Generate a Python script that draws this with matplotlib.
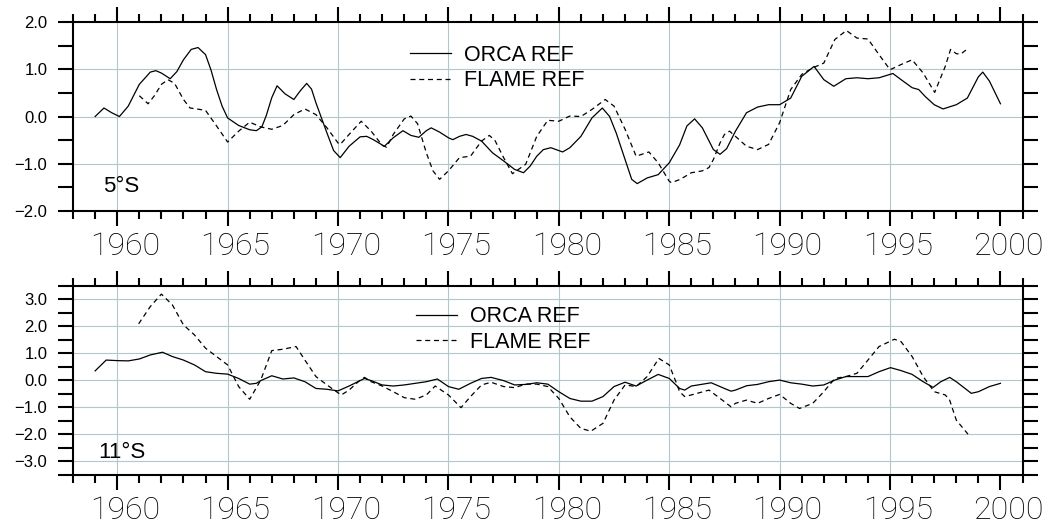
import numpy as np
import matplotlib
matplotlib.use('Agg')
import matplotlib.pyplot as plt
import matplotlib.transforms as mtransforms
from matplotlib.ticker import MultipleLocator, FuncFormatter

# ---- 5S series ----
orca5_yr = [1959.0, 1959.4, 1959.75, 1960.1, 1960.5, 1961.0, 1961.5, 1961.75, 1962.0, 1962.4,
            1962.7, 1963.0, 1963.35, 1963.66, 1964.0, 1964.25, 1964.5, 1964.75, 1965.0, 1965.5,
            1966.0, 1966.3, 1966.55, 1966.75, 1967.0, 1967.24, 1967.6, 1968.0, 1968.3, 1968.58,
            1968.8, 1969.0, 1969.5, 1969.8, 1970.1, 1970.5, 1971.0, 1971.3, 1971.6, 1972.1,
            1972.5, 1972.94, 1973.3, 1973.66, 1974.0, 1974.22, 1974.6, 1975.0, 1975.2, 1975.5,
            1975.8, 1976.1, 1976.5, 1977.0, 1977.5, 1978.0, 1978.4, 1978.7, 1979.0, 1979.3,
            1979.64, 1980.17, 1980.5, 1981.0, 1981.5, 1981.97, 1982.3, 1982.6, 1983.0, 1983.3,
            1983.55, 1984.0, 1984.5, 1985.0, 1985.47, 1985.8, 1986.15, 1986.5, 1987.0, 1987.3,
            1987.6, 1988.0, 1988.5, 1989.0, 1989.5, 1990.0, 1990.5, 1991.0, 1991.56, 1992.0,
            1992.45, 1993.0, 1993.5, 1994.0, 1994.5, 1995.13, 1995.5, 1996.0, 1996.3, 1996.6,
            1997.0, 1997.4, 1998.0, 1998.5, 1999.0, 1999.2, 1999.5, 2000.0]
orca5 = [0.00, 0.18, 0.08, 0.00, 0.22, 0.68, 0.94, 0.97, 0.92, 0.80,
         0.95, 1.20, 1.42, 1.46, 1.31, 0.98, 0.57, 0.22, -0.03, -0.19,
         -0.28, -0.30, -0.22, 0.02, 0.40, 0.65, 0.48, 0.36, 0.55, 0.70,
         0.58, 0.29, -0.35, -0.72, -0.87, -0.63, -0.43, -0.42, -0.49, -0.63,
         -0.45, -0.30, -0.40, -0.44, -0.30, -0.24, -0.33, -0.45, -0.49, -0.42,
         -0.38, -0.42, -0.52, -0.77, -0.94, -1.12, -1.19, -1.05, -0.84, -0.70,
         -0.66, -0.75, -0.66, -0.42, -0.03, 0.18, 0.00, -0.35, -0.91, -1.33,
         -1.42, -1.30, -1.23, -0.98, -0.60, -0.20, -0.05, -0.24, -0.70, -0.80,
         -0.68, -0.31, 0.08, 0.20, 0.25, 0.25, 0.39, 0.85, 1.06, 0.78,
         0.64, 0.80, 0.82, 0.80, 0.82, 0.91, 0.78, 0.61, 0.57, 0.42,
         0.25, 0.16, 0.25, 0.39, 0.84, 0.94, 0.75, 0.27]

flame5_yr = [1961.0, 1961.4, 1961.7, 1962.0, 1962.3, 1962.6, 1963.0, 1963.3, 1963.6, 1964.0,
             1964.5, 1965.0, 1965.5, 1966.0, 1966.5, 1967.0, 1967.5, 1968.0, 1968.5, 1969.0,
             1969.5, 1970.0, 1970.1, 1970.5, 1971.05, 1971.5, 1972.0, 1972.2, 1972.5, 1973.0,
             1973.3, 1973.6, 1974.0, 1974.3, 1974.6, 1975.0, 1975.5, 1976.0, 1976.5, 1976.85,
             1977.1, 1977.5, 1977.9, 1978.5, 1979.0, 1979.5, 1980.0, 1980.5, 1981.0, 1981.5,
             1982.1, 1982.5, 1983.0, 1983.5, 1984.08, 1984.5, 1985.0, 1985.1, 1985.5, 1986.0,
             1986.5, 1986.8, 1987.0, 1987.3, 1987.5, 1987.73, 1988.0, 1988.5, 1989.0, 1989.5,
             1990.0, 1990.5, 1991.0, 1991.5, 1992.0, 1992.5, 1993.02, 1993.5, 1994.0, 1994.5,
             1995.0, 1995.5, 1996.0, 1996.5, 1997.02, 1997.5, 1997.74, 1998.0, 1998.2, 1998.5]
flame5 = [0.44, 0.27, 0.45, 0.68, 0.78, 0.70, 0.36, 0.18, 0.16, 0.13,
          -0.20, -0.54, -0.31, -0.12, -0.22, -0.27, -0.19, 0.04, 0.16, 0.04,
          -0.24, -0.56, -0.59, -0.38, -0.10, -0.31, -0.61, -0.65, -0.38, -0.05,
          0.01, -0.15, -0.77, -1.15, -1.33, -1.15, -0.87, -0.84, -0.52, -0.40,
          -0.50, -0.87, -1.21, -1.01, -0.42, -0.08, -0.10, 0.01, 0.00, 0.15,
          0.36, 0.22, -0.27, -0.84, -0.75, -0.98, -1.37, -1.40, -1.33, -1.19,
          -1.15, -1.08, -0.91, -0.56, -0.38, -0.31, -0.42, -0.63, -0.70, -0.59,
          -0.13, 0.57, 0.89, 1.03, 1.13, 1.63, 1.82, 1.66, 1.64, 1.31,
          0.99, 1.10, 1.20, 0.92, 0.51, 1.06, 1.42, 1.33, 1.32, 1.43]

# ---- 11S series ----
orca11_yr = [1959.0, 1959.5, 1960.0, 1960.5, 1961.0, 1961.5, 1962.05, 1962.5, 1963.0, 1963.5,
             1964.0, 1964.5, 1965.0, 1965.5, 1966.0, 1966.3, 1966.5, 1967.0, 1967.5, 1968.0,
             1968.5, 1969.0, 1969.5, 1970.0, 1970.5, 1971.2, 1971.5, 1972.0, 1972.5, 1973.0,
             1973.5, 1974.0, 1974.5, 1975.0, 1975.47, 1976.0, 1976.5, 1976.93, 1977.5, 1978.0,
             1978.5, 1979.0, 1979.5, 1980.0, 1980.5, 1981.0, 1981.5, 1982.0, 1982.5, 1983.0,
             1983.5, 1984.0, 1984.5, 1985.0, 1985.47, 1985.7, 1986.0, 1986.9, 1987.5, 1987.8,
             1988.0, 1988.5, 1989.0, 1989.5, 1990.0, 1990.5, 1991.0, 1991.5, 1992.0, 1992.5,
             1993.0, 1993.5, 1994.0, 1994.5, 1995.02, 1995.5, 1996.0, 1996.5, 1996.95, 1997.3,
             1997.7, 1998.0, 1998.68, 1999.0, 1999.5, 2000.0]
orca11 = [0.35, 0.75, 0.73, 0.72, 0.79, 0.94, 1.04, 0.88, 0.75, 0.57,
          0.32, 0.26, 0.23, 0.07, -0.14, -0.11, -0.01, 0.17, 0.05, 0.09,
          -0.05, -0.30, -0.33, -0.39, -0.21, 0.07, -0.01, -0.17, -0.21, -0.17,
          -0.11, -0.05, 0.05, -0.23, -0.33, -0.11, 0.07, 0.11, -0.01, -0.17,
          -0.15, -0.09, -0.14, -0.42, -0.67, -0.77, -0.77, -0.60, -0.23, -0.07,
          -0.21, 0.01, 0.22, 0.07, -0.30, -0.36, -0.21, -0.09, -0.30, -0.40,
          -0.36, -0.20, -0.15, -0.05, 0.01, -0.09, -0.14, -0.21, -0.17, 0.01,
          0.14, 0.14, 0.14, 0.32, 0.47, 0.36, 0.22, -0.05, -0.26, -0.05,
          0.11, -0.05, -0.48, -0.42, -0.23, -0.11]

flame11_yr = [1960.97, 1961.5, 1962.0, 1962.5, 1963.0, 1963.5, 1964.0, 1964.5, 1965.0, 1965.5,
              1966.0, 1966.5, 1967.0, 1967.5, 1968.1, 1968.5, 1969.0, 1969.5, 1970.0, 1970.15,
              1970.5, 1971.0, 1971.2, 1971.5, 1972.0, 1972.5, 1973.0, 1973.5, 1974.0, 1974.4,
              1975.0, 1975.57, 1976.0, 1976.5, 1976.93, 1977.5, 1978.0, 1978.5, 1979.0, 1979.5,
              1980.0, 1980.5, 1981.0, 1981.45, 1982.0, 1982.5, 1983.0, 1983.5, 1984.0, 1984.53,
              1985.0, 1985.3, 1985.47, 1985.7, 1986.0, 1986.8, 1987.5, 1987.8, 1988.0, 1988.5,
              1989.0, 1989.5, 1990.0, 1990.5, 1990.9, 1991.5, 1992.0, 1992.5, 1993.0, 1993.5,
              1994.0, 1994.5, 1995.2, 1995.5, 1996.0, 1996.5, 1997.0, 1997.5, 1997.7, 1998.0,
              1998.53]
flame11 = [2.09, 2.73, 3.19, 2.79, 2.05, 1.68, 1.19, 0.88, 0.57, -0.23,
           -0.70, 0.01, 1.10, 1.15, 1.25, 0.75, 0.14, -0.17, -0.46, -0.54,
           -0.36, 0.01, 0.11, -0.05, -0.21, -0.42, -0.64, -0.70, -0.54, -0.21,
           -0.54, -1.01, -0.60, -0.17, -0.07, -0.23, -0.27, -0.14, -0.14, -0.23,
           -0.67, -1.35, -1.78, -1.88, -1.59, -0.73, -0.17, -0.23, 0.14, 0.81,
           0.57, -0.05, -0.42, -0.60, -0.54, -0.36, -0.79, -0.98, -0.85, -0.73,
           -0.85, -0.67, -0.52, -0.85, -1.04, -0.85, -0.42, 0.07, 0.14, 0.26,
           0.75, 1.25, 1.52, 1.43, 0.88, 0.14, -0.42, -0.54, -0.73, -1.47,
           -1.99]

labels = ['ORCA REF', 'FLAME REF']
grid_years = [1960, 1965, 1970, 1975, 1980, 1985, 1990, 1995]
gridcol = '#b3c6ca'

plt.rcParams['font.family'] = ['Liberation Sans', 'DejaVu Sans']

fig = plt.figure(figsize=(10.48, 5.29), dpi=100)
ax1 = fig.add_axes([0.0697, 0.6011, 0.9060, 0.3573])
ax2 = fig.add_axes([0.0697, 0.1021, 0.9060, 0.3578])

# year labels sit a little to the right of their ticks
xlab_shift = mtransforms.ScaledTranslation(8 / 100, 0, fig.dpi_scale_trans)
yfmt = FuncFormatter(lambda v, pos: ('%.1f' % v).replace('-', '\u2212'))


def setup(ax, ylim, ygrid):
    ax.set_xlim(1958, 2001)
    ax.set_ylim(*ylim)
    for yr in grid_years:
        ax.axvline(yr, color=gridcol, lw=0.8, zorder=0)
    for v in ygrid:
        ax.axhline(v, color=gridcol, lw=0.8, zorder=0)
    ax.xaxis.set_major_locator(MultipleLocator(5))
    ax.xaxis.set_minor_locator(MultipleLocator(1))
    ax.yaxis.set_major_locator(MultipleLocator(1))
    ax.yaxis.set_minor_locator(MultipleLocator(0.5))
    ax.yaxis.set_major_formatter(yfmt)
    ax.tick_params(axis='both', which='both', direction='out', width=1.5,
                   top=True, right=True)
    ax.tick_params(axis='x', which='major', length=11, pad=4, labelsize=23)
    ax.tick_params(axis='x', which='minor', length=5.5)
    ax.tick_params(axis='y', which='both', length=10.5, pad=8, labelsize=12)
    for lab in ax.get_xticklabels():
        lab.set_fontweight('light')
        lab.set_family(['Roboto', 'Liberation Sans'])
        lab.set_transform(lab.get_transform() + xlab_shift)
    for s in ax.spines.values():
        s.set_linewidth(1.5)


setup(ax1, (-2, 2), [-1, 0, 1])
setup(ax2, (-3.5, 3.5), [-3, -2, -1, 0, 1, 2, 3])

ax1.plot(orca5_yr, orca5, color='black', lw=0.9, label=labels[0])
ax1.plot(flame5_yr, flame5, color='black', lw=0.9, ls=(0, (4, 3)), label=labels[1])
ax2.plot(orca11_yr, orca11, color='black', lw=0.9, label=labels[0])
ax2.plot(flame11_yr, flame11, color='black', lw=0.9, ls=(0, (4, 3)), label=labels[1])

ax1.text(0.0316, 0.1005, '5°S', transform=ax1.transAxes, fontsize=16, va='baseline')
ax2.text(0.0263, 0.09, '11°S', transform=ax2.transAxes, fontsize=16, va='baseline')

leg_kw = dict(frameon=False, fontsize=15.5, handlelength=1.9, handletextpad=0.6,
              labelspacing=0.2, borderpad=0, borderaxespad=0, loc='upper left')
ax1.legend(bbox_to_anchor=(0.3912, 0.915), bbox_transform=fig.transFigure, **leg_kw)
ax2.legend(bbox_to_anchor=(0.397, 0.421), bbox_transform=fig.transFigure, **leg_kw)

fig.savefig('out.png', dpi=100)
